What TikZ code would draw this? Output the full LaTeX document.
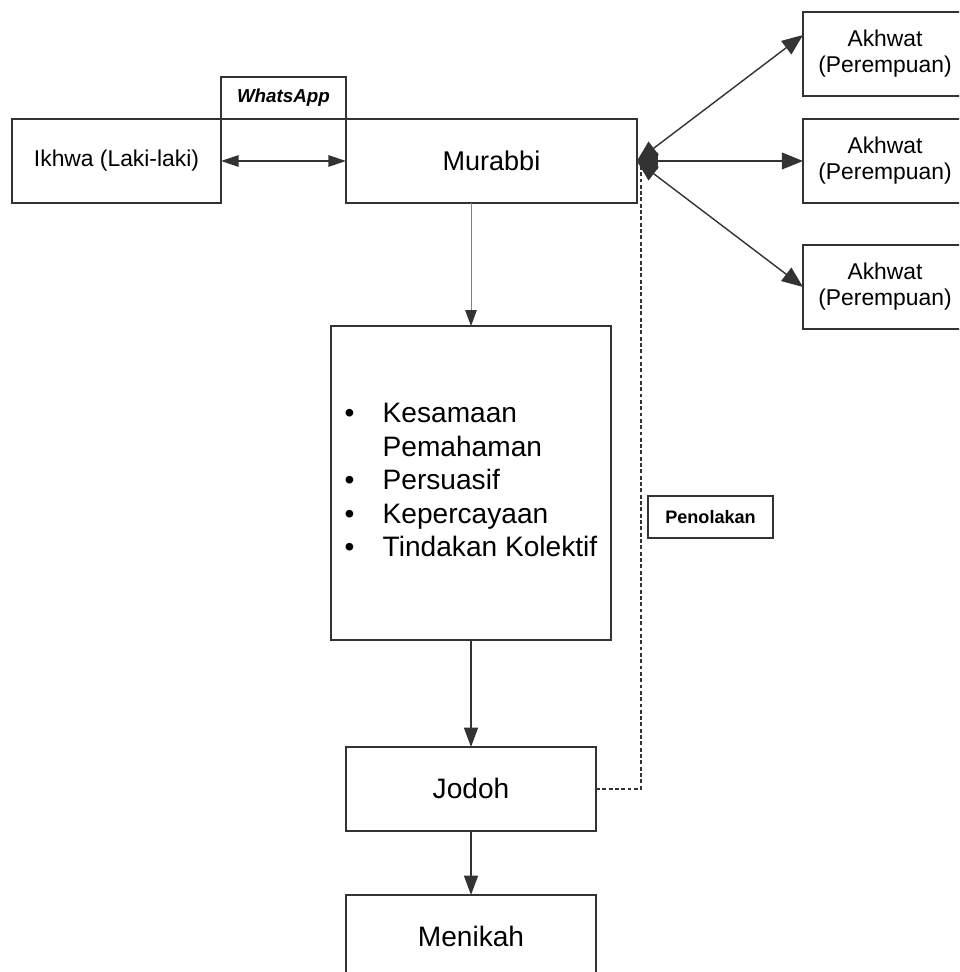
\documentclass[tikz,border=0pt]{standalone}
\usepackage{fontspec}
\setmainfont{Liberation Sans}
\usetikzlibrary{arrows.meta,positioning}
\definecolor{ln}{HTML}{333333}

\begin{document}
\begin{tikzpicture}[x=0.02cm,y=-0.02cm,
  b/.style={draw=ln,line width=0.8pt,outer sep=0pt,inner sep=2pt,align=center,minimum height=1.68cm},
  big/.style={font=\fontsize{16}{19}\selectfont},
  small/.style={font=\fontsize{13}{14.7}\selectfont},
  tag/.style={draw=ln,line width=0.8pt,outer sep=0pt,minimum width=2.5cm,minimum height=0.84cm},
  con/.style={draw=ln,line width=0.8pt,-{Triangle[length=11pt,width=8pt]}},
  con2/.style={draw=ln,line width=0.8pt,{Triangle[length=10pt,width=6.5pt]}-{Triangle[length=10pt,width=6.5pt]}},
  con3/.style={draw=ln,line width=0.8pt,{Triangle[length=12pt,width=9.5pt]}-{Triangle[length=12pt,width=9.5pt]}},
  dashline/.style={draw=ln,line width=1.3pt,dash pattern=on 2.2pt off 1.4pt}]
  \useasboundingbox (0,0) rectangle (959,972);
  \clip (0,0) rectangle (959,972);

  % kiri: ikhwa dan murabbi
  \node[b,small,minimum width=4.18cm] (ikhwa) at (116.5,161) {Ikhwa (Laki-laki)};
  \node[tag,above right=0pt and 0pt of ikhwa.north east,font=\fontsize{10.7}{12}\selectfont\bfseries\itshape] (wa) {WhatsApp};
  \node[b,font=\fontsize{15.4}{18}\selectfont,minimum width=5.82cm,right=2.5cm of ikhwa] (murabbi) {Murabbi};

  % kanan: akhwat
  \node[b,small,minimum width=3.28cm] (a1) at (885,54) {Akhwat\\(Perempuan)};
  \node[b,small,minimum width=3.28cm] (a2) at (885,161) {Akhwat\\(Perempuan)};
  \node[b,small,minimum width=3.28cm] (a3) at (885,287) {Akhwat\\(Perempuan)};

  % tengah
  \node[b,big,minimum width=5.6cm,minimum height=6.28cm] (isi) at (471,483) {%
    \begin{tabular}{@{}l@{\hspace{16pt}}l@{}}
      \textbullet & Kesamaan\\
                  & Pemahaman\\
      \textbullet & Persuasif\\
      \textbullet & Kepercayaan\\
      \textbullet & Tindakan Kolektif
    \end{tabular}};
  \node[b,big,minimum width=5cm,below=2.14cm of isi] (jodoh) {Jodoh};
  \node[b,big,minimum width=5cm,below=1.28cm of jodoh] (nikah) {Menikah};
  \node[tag,font=\fontsize{10.3}{12}\selectfont\bfseries] (tolak) at (710.5,517) {Penolakan};

  \draw[con2] (ikhwa) -- (murabbi);
  \draw[con3] (murabbi.east) -- ([yshift=0.38cm]a1.west);
  \draw[con3] (murabbi.east) -- (a2.west);
  \draw[con3] (murabbi.east) -- (a3.west);
  \draw[draw=gray,line width=0.5pt,-{Triangle[length=9pt,width=6.5pt,color=ln]}] (murabbi.south -| isi.north) -- (isi.north);
  \draw[con] (isi) -- (jodoh);
  \draw[con] (jodoh) -- (nikah);
  \draw[dashline] (jodoh.east) -| ([xshift=0.08cm,yshift=-0.04cm]murabbi.east);
\end{tikzpicture}
\end{document}
